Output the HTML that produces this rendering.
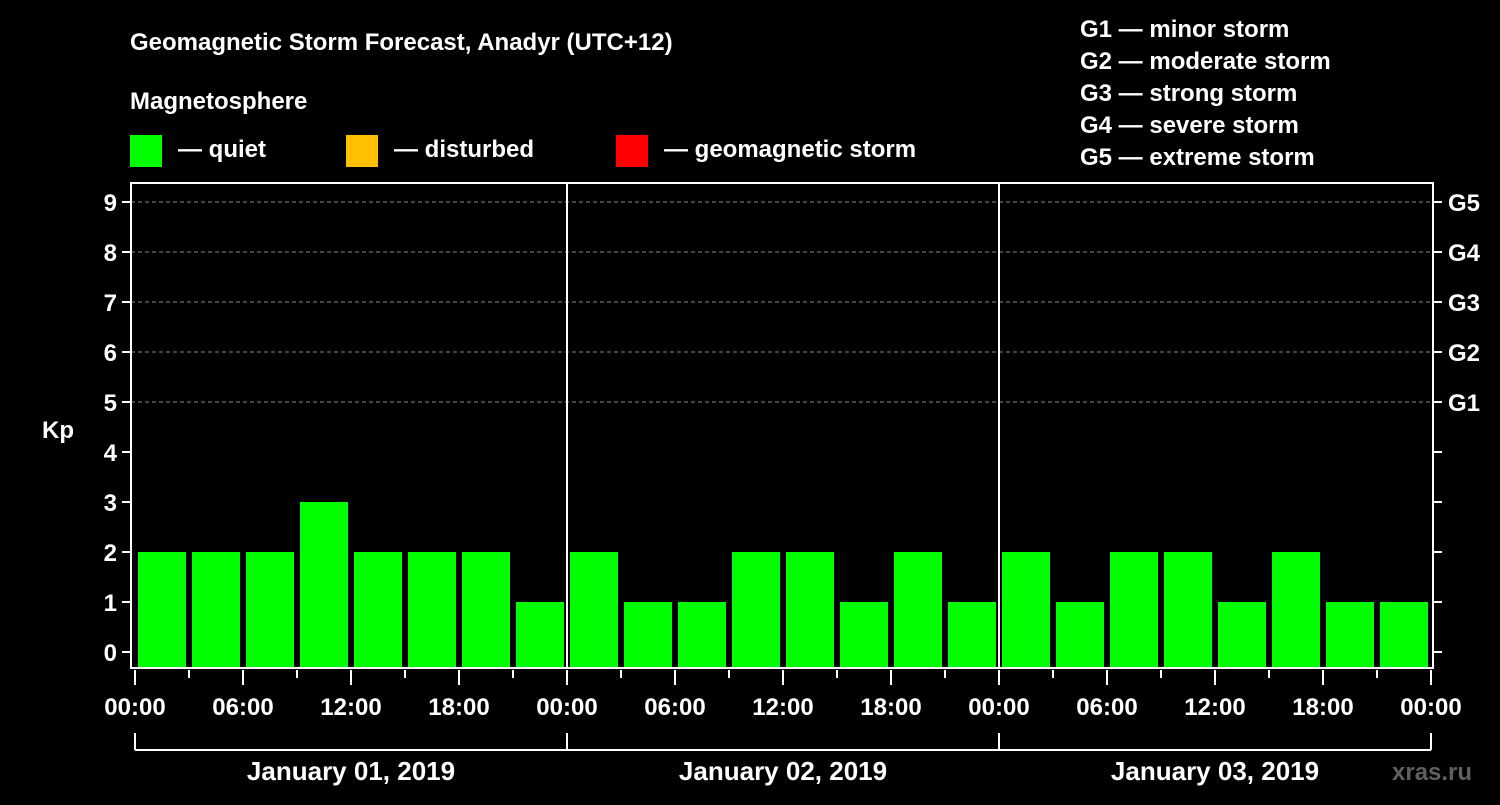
<!DOCTYPE html>
<html><head><meta charset="utf-8"><style>
body{margin:0;background:#000;width:1500px;height:800px;overflow:hidden}
svg text{font-family:"Liberation Sans",sans-serif;font-weight:bold;fill:#fff}
</style></head><body>
<svg id="c" width="1500" height="800">
<rect width="1500" height="800" fill="#000"/>
<text x="130" y="50" font-size="24">Geomagnetic Storm Forecast, Anadyr (UTC+12)</text>
<text x="130" y="109" font-size="24">Magnetosphere</text>
<g><rect x="130" y="135" width="32" height="32" fill="#00ff00"/><text x="178" y="157" font-size="24">— quiet</text></g>
<g><rect x="346" y="135" width="32" height="32" fill="#ffc000"/><text x="394" y="157" font-size="24">— disturbed</text></g>
<g><rect x="616" y="135" width="32" height="32" fill="#ff0000"/><text x="664" y="157" font-size="24">— geomagnetic storm</text></g>
<g font-size="24">
<text x="1080" y="37">G1 — minor storm</text>
<text x="1080" y="69">G2 — moderate storm</text>
<text x="1080" y="101">G3 — strong storm</text>
<text x="1080" y="133">G4 — severe storm</text>
<text x="1080" y="165">G5 — extreme storm</text>
</g>
<text x="42" y="438" font-size="24">Kp</text>
<text x="1392" y="780" font-size="24" fill="#555" style="fill:#606060">xras.ru</text>
<g id="plot"></g>
</svg>
<script>
const kp = [2,2,2,3,2,2,2,1, 2,1,1,2,2,1,2,1, 2,1,2,2,1,2,1,1];
const yTicks = [0,1,2,3,4,5,6,7,8,9];
const gLabels = ["G1","G2","G3","G4","G5"];
const gLevels = [5,6,7,8,9];
const xTickLabels = ["00:00","06:00","12:00","18:00"];
const dayLabels = ["January 01, 2019","January 02, 2019","January 03, 2019"];

const NS="http://www.w3.org/2000/svg";
const g=document.getElementById('plot');
const X0=135, DAY=432, L=131, R=1433, T=183, B=668;
const y=v=>652-50*v;
const x=h=>X0+h*DAY/24;
function el(t,a,p){const e=document.createElementNS(NS,t);for(const k in a)e.setAttribute(k,a[k]);(p||g).appendChild(e);return e;}
// grid
yTicks.forEach(v=>{
 if(v>=5){const l=el('line',{x1:L,x2:R,y1:y(v),y2:y(v),stroke:'#888','stroke-dasharray':'4,3'});
 
 }
 const t=el('line',{x1:L-9,x2:L,y1:y(v),y2:y(v),stroke:'#fff','stroke-width':2});
 
 
 const rt=el('line',{x1:R,x2:R+9,y1:y(v),y2:y(v),stroke:'#fff','stroke-width':2});
 
 
 const tx=el('text',{x:L-14,y:y(v)+9,'text-anchor':'end','font-size':24});tx.textContent=v;
 
 
});
gLabels.forEach((s,i)=>{const tx=el('text',{x:1448,y:y(gLevels[i])+9,'font-size':24});tx.textContent=s;
 
 });
// bars
kp.forEach((v,i)=>{
 const c=v>=5?'#ff0000':(v>=4?'#ffc000':'#00ff00');
 const b=el('rect',{x:x(i*3)+3,y:y(v),width:DAY/8-6,height:B-y(v),fill:c});
 
 
});
// frame
const f=el('rect',{x:L,y:T,width:R-L,height:B-T,fill:'none',stroke:'#fff','stroke-width':2});


for(let d=1;d<3;d++){const l=el('line',{x1:x(d*24),x2:x(d*24),y1:T,y2:B,stroke:'#fff','stroke-width':2});
 
 }
// x ticks
for(let h=0;h<=72;h+=3){
 const major=h%6===0;
 const t=el('line',{x1:x(h),x2:x(h),y1:B+2,y2:major?B+17:B+10,stroke:'#fff','stroke-width':2});
 
 
 if(major){const tx=el('text',{x:x(h),y:715,'text-anchor':'middle','font-size':24});
 tx.textContent=xTickLabels[(h/6)%4];
 
 }
}
// day brackets
const bl=el('line',{x1:x(0),x2:x(72),y1:750,y2:750,stroke:'#fff','stroke-width':2});


for(let d=0;d<=3;d++){const l=el('line',{x1:x(d*24),x2:x(d*24),y1:733,y2:750,stroke:'#fff','stroke-width':2});
 
 }
dayLabels.forEach((s,d)=>{const tx=el('text',{x:x(d*24+12),y:780,'text-anchor':'middle','font-size':26});tx.textContent=s;
 
 });
</script>
</body></html>
